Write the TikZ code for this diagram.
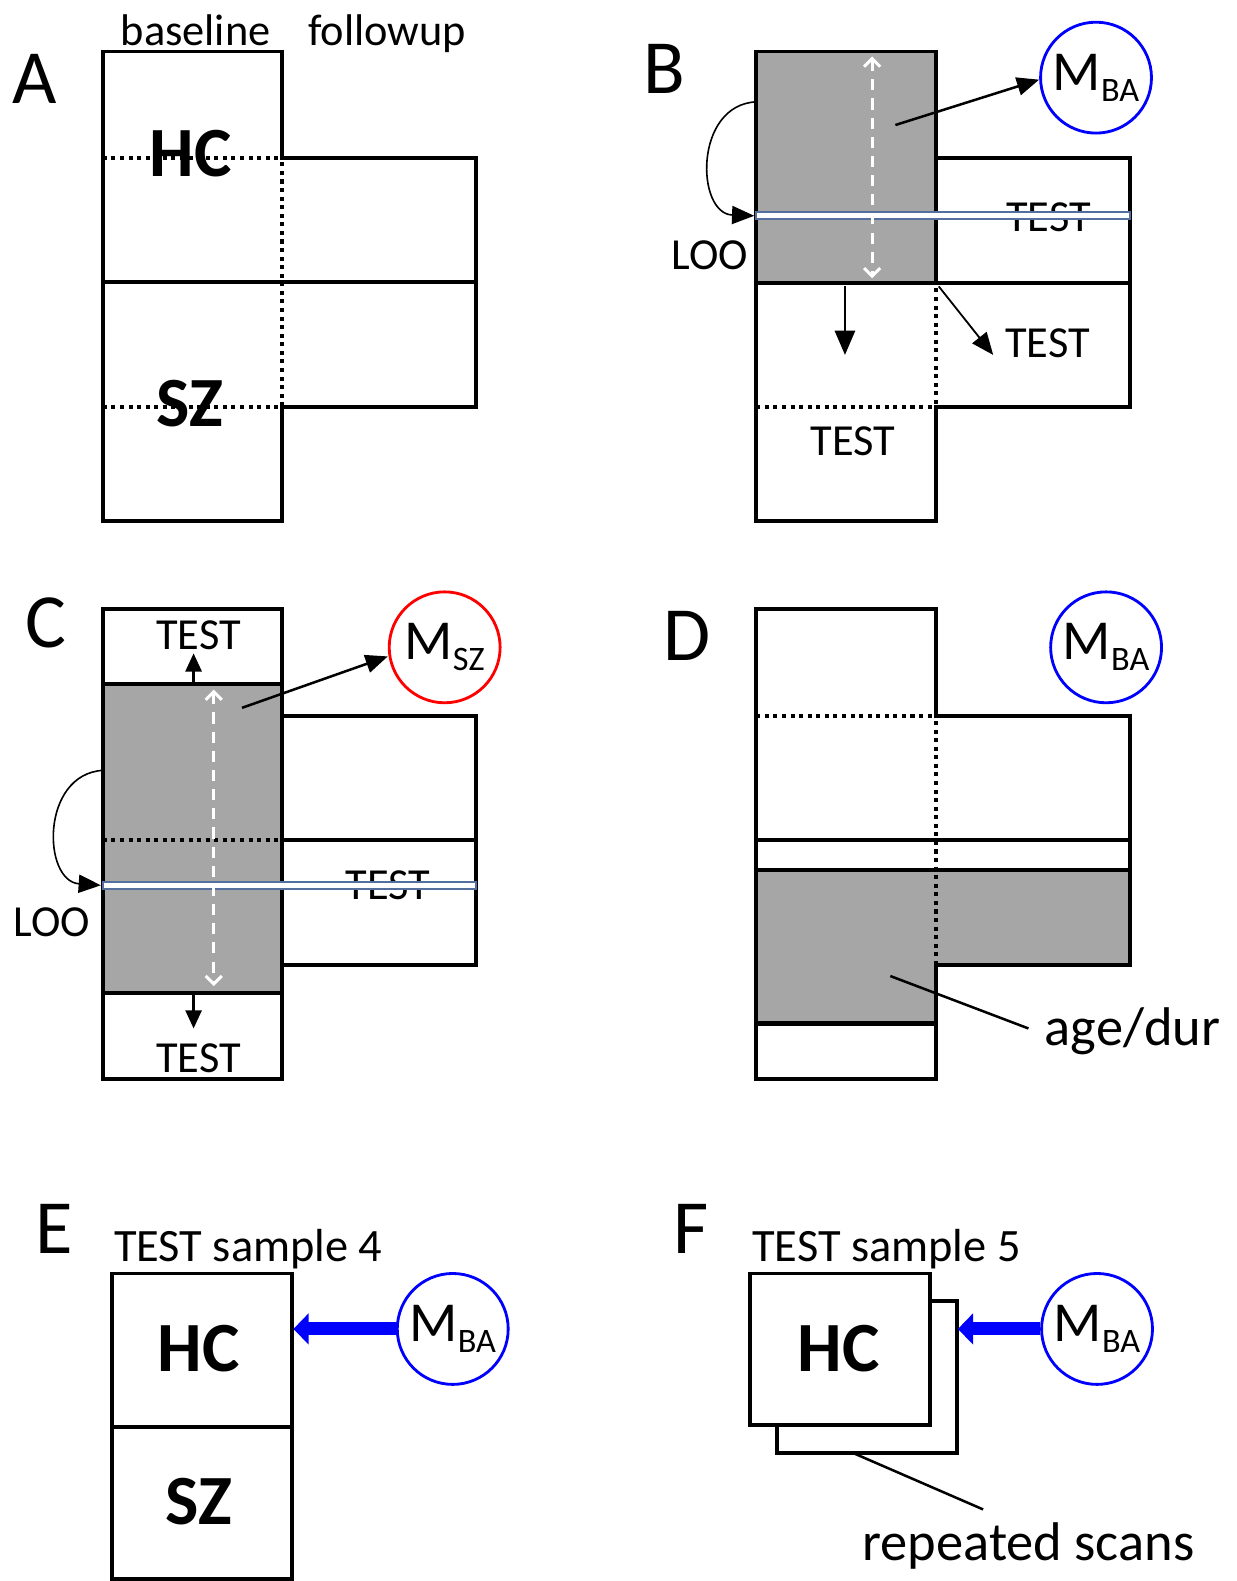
\documentclass[tikz,border=0pt]{standalone}
\usepackage{fontspec}
\setmainfont{Carlito}
\usetikzlibrary{arrows.meta}
\definecolor{boxgray}{RGB}{166,166,166}
\definecolor{looedge}{RGB}{84,110,158}
\begin{document}
\begin{tikzpicture}[x=1pt,y=-1pt,
  solidln/.style={line width=3.8pt, line join=miter, line cap=rect},
  innerln/.style={line width=3.8pt, line cap=butt},
  dotln/.style={line width=4.2pt, dash pattern=on 4pt off 4.5pt},
  blkarrow/.style={line width=2.2pt, -{Triangle[length=24pt,width=20pt]}},
  thinarrow/.style={line width=1.6pt, -{Triangle[length=22pt,width=18pt]}},
  whitearrow/.style={white, line width=3pt, dash pattern=on 11pt off 8pt,
     {Straight Barb[length=8pt,width=16pt]}-{Straight Barb[length=8pt,width=16pt]}},
  bluearrow/.style={blue, line width=13pt, -{Triangle[length=15pt,width=30pt]}},
  loobar/.style={fill=white, draw=looedge, line width=2pt},
  txt/.style={font=\fontsize{44}{44}\selectfont, inner sep=0, anchor=base},
  bigtxt/.style={font=\fontsize{54}{54}\selectfont, inner sep=0, anchor=base west},
  panel/.style={font=\fontsize{76}{76}\selectfont, inner sep=0, anchor=base west},
  grp/.style={font=\fontsize{70}{70}\selectfont\bfseries, inner sep=0, anchor=base},
  model/.style={circle, draw=#1, line width=2.8pt, minimum size=110pt, inner sep=0pt,
     font=\fontsize{56}{56}\selectfont},
  leader/.style={line width=2.5pt}
]
\useasboundingbox[fill=white] (0,0) rectangle (1226,1568);

% ================= Panel A =================
\node[panel] (labA) at (12,103) {A};
\node[txt] (tbase) at (194,45) {baseline};
\node[txt] (tfol) at (384,45) {followup};
\draw[solidln] (102,157) -- (102,51) -- (280,51) -- (280,157) -- (472,157) -- (472,404) -- (280,404) -- (280,517) -- (102,517) -- cycle;
\draw[innerln] (102,280) -- (472,280);
\draw[dotln] (102,157) -- (280,157);
\draw[dotln] (102,404) -- (280,404);
\draw[dotln] (280,161) -- (280,404);
\node[grp] (hcA) at (189,175) {HC};
\node[grp] (szA) at (188,423) {SZ};

% ================= Panel B =================
\node[panel] (labB) at (638,93) {B};
\fill[boxgray] (750,51) rectangle (928,281);
\draw[solidln] (750,51) -- (928,51) -- (928,157) -- (1121,157) -- (1121,404) -- (928,404) -- (928,517) -- (750,517) -- cycle;
\draw[innerln] (928,157) -- (928,281);
\draw[innerln] (750,281) -- (1121,281);
\draw[dotln] (928,286) -- (928,404);
\draw[dotln] (750,404) -- (928,404);
\node[txt] (testB1) at (1040,230) {TEST};
\draw[loobar] (750,210.5) rectangle (1121,217.5);
\draw[whitearrow] (865,56) -- (865,276);
\node[model=blue] (mB) at (1087,77) {M\raisebox{-11pt}{\fontsize{34}{34}\selectfont BA}};
\coordinate (srcB) at (888,124);
\draw[thinarrow, line width=2.5pt] (srcB) -- (mB.west |- 0,79) ;
\coordinate (looB1) at (750,101);
\coordinate (looB2) at (748,214);
\draw[thinarrow] (looB1) .. controls (688,104) and (690,212) .. (looB2);
\node[txt, anchor=base west] (looB) at (666,267) {LOO};
\coordinate (dnB1) at (838,284);
\coordinate (dnB2) at (838,352);
\draw[blkarrow] (dnB1) -- (dnB2);
\coordinate (dgB1) at (931,284);
\coordinate (dgB2) at (985,352);
\draw[thinarrow, line width=1.8pt] (dgB1) -- (dgB2);
\node[txt] (testB2) at (1039,355) {TEST};
\node[txt] (testB3) at (846,452) {TEST};

% ================= Panel C =================
\node[panel] (labC) at (25,642) {C};
\fill[boxgray] (102,678) rectangle (280,985);
\draw[solidln] (102,604) rectangle (280,1070);
\draw[innerln] (102,678) -- (280,678);
\draw[innerln] (102,985) -- (280,985);
\draw[solidln] (280,710) -- (472,710) -- (472,957) -- (280,957);
\draw[innerln] (280,833) -- (472,833);
\draw[dotln] (102,833) -- (280,833);
\node[txt] (testC1) at (197,644) {TEST};
\node[txt] (testC2) at (385,892) {TEST};
\draw[loobar] (102,874.5) rectangle (472,881.5);
\node[txt] (testC3) at (197,1064) {TEST};
\draw[whitearrow] (212,684) -- (212,978);
\node[model=red] (mC) at (441,642) {M\raisebox{-11pt}{\fontsize{34}{34}\selectfont SZ}};
\coordinate (srcC) at (240,702);
\draw[thinarrow, line width=2.5pt] (srcC) -- (mC.west |- 0,651);
\coordinate (upC1) at (192,676);
\coordinate (upC2) at (192,648);
\draw[blkarrow, -{Triangle[length=18pt,width=16pt]}] (upC1) -- (upC2);
\coordinate (dnC1) at (192,987);
\coordinate (dnC2) at (192,1020);
\draw[blkarrow, -{Triangle[length=18pt,width=16pt]}] (dnC1) -- (dnC2);
\coordinate (looC1) at (102,764);
\coordinate (looC2) at (100,878);
\draw[thinarrow] (looC1) .. controls (40,768) and (42,874) .. (looC2);
\node[txt, anchor=base west] (looC) at (13,929) {LOO};

% ================= Panel D =================
\node[panel] (labD) at (658,655) {D};
\fill[boxgray] (750,863) -- (1121,863) -- (1121,957) -- (928,957) -- (928,1015) -- (750,1015) -- cycle;
\draw[solidln] (750,710) -- (750,604) -- (928,604) -- (928,710) -- (1121,710) -- (1121,957) -- (928,957) -- (928,1070) -- (750,1070) -- cycle;
\draw[innerln] (750,833) -- (1121,833);
\draw[innerln, line width=4.4pt] (750,863) -- (1121,863);
\draw[innerln, line width=4.4pt] (750,1015) -- (928,1015);
\draw[dotln] (750,710) -- (928,710);
\draw[dotln] (928,715) -- (928,957);
\node[model=blue] (mD) at (1097,642) {M\raisebox{-11pt}{\fontsize{34}{34}\selectfont BA}};
\node[bigtxt] (agedur) at (1036,1037) {age/dur};
\coordinate (ldD1) at (883,968);
\coordinate (ldD2) at (1020,1020);
\draw[leader] (ldD1) -- (ldD2);

% ================= Panel E =================
\node[panel] (labE) at (35,1243) {E};
\node[txt, anchor=base west, font=\fontsize{46}{46}\selectfont] (ts4) at (113,1251) {TEST sample 4};
\draw[solidln] (111,1263) rectangle (290,1566);
\draw[innerln] (111,1415) -- (290,1415);
\node[grp] (hcE) at (197,1360) {HC};
\node[grp] (szE) at (197,1512) {SZ};
\node[model=blue] (mE) at (449,1318) {M\raisebox{-11pt}{\fontsize{34}{34}\selectfont BA}};
\coordinate (tipE) at (291,1318);
\draw[bluearrow] (mE.west) -- (tipE);

% ================= Panel F =================
\node[panel] (labF) at (668,1243) {F};
\node[txt, anchor=base west, font=\fontsize{46}{46}\selectfont] (ts5) at (746,1251) {TEST sample 5};
\draw[solidln, fill=white] (771,1290) rectangle (949,1441);
\draw[solidln, fill=white] (744,1263) rectangle (922,1413);
\node[grp] (hcF) at (832,1360) {HC};
\node[model=blue] (mF) at (1088,1318) {M\raisebox{-11pt}{\fontsize{34}{34}\selectfont BA}};
\coordinate (tipF) at (950,1318);
\draw[bluearrow] (mF.west) -- (tipF);
\node[bigtxt] (rep) at (855,1548) {repeated scans};
\coordinate (ldF1) at (846,1441);
\coordinate (ldF2) at (975,1497);
\draw[leader] (ldF1) -- (ldF2);
\end{tikzpicture}
\end{document}
